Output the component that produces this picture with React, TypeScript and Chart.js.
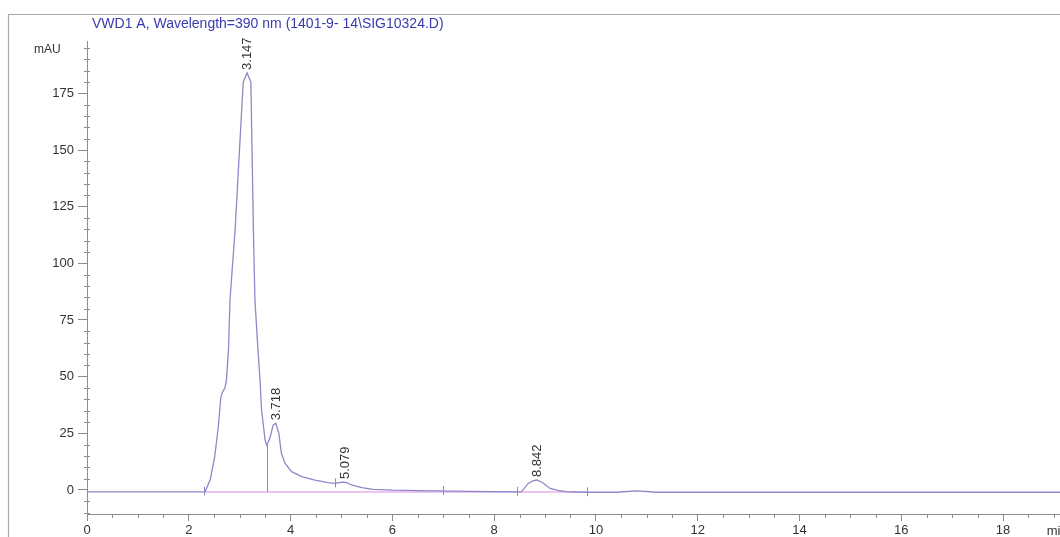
import React, { useEffect, useRef } from "react";
import { Chart, registerables } from "chart.js";

Chart.register(...registerables);

const TITLE = "VWD1 A, Wavelength=390 nm (1401-9- 14\\SIG10324.D)";
const Y_UNIT = "mAU";
const X_UNIT = "min";

// retention time (min) and detector signal (mAU)
const times = [
  0, 1.0, 2.0, 2.3, 2.32, 2.42, 2.51, 2.58, 2.63, 2.67, 2.71, 2.74, 2.78, 2.81, 2.91,
  3.07, 3.147, 3.22, 3.27, 3.30, 3.36, 3.40, 3.43, 3.50, 3.53, 3.57, 3.60, 3.66, 3.71,
  3.77, 3.82, 3.89, 4.02, 4.22, 4.48, 4.74, 4.87, 4.97, 5.04, 5.10, 5.20, 5.40, 5.62,
  6.0, 6.5, 6.93, 7.5, 8.0, 8.45, 8.54, 8.67, 8.76, 8.84, 8.95, 9.10, 9.25, 9.42, 9.6,
  9.83, 10.4, 10.8, 11.2, 12, 14, 16, 18, 19.12,
];
const signal = [
  -0.8, -0.8, -0.8, -0.8, -0.7, 4.4, 14.7, 27.9, 41, 43.5, 45, 48.5, 61.7, 83.8, 114.7,
  180, 184, 180, 114.7, 83.8, 61.7, 48.5, 35.3, 22, 19.8, 21.5, 23.5, 28.7, 29.4,
  25, 16.2, 11.8, 8.1, 5.9, 4.3, 3.2, 2.9, 3.3, 3.5, 3.2, 2.2, 1.0, 0.3,
  -0.1, -0.3, -0.4, -0.6, -0.7, -0.8, -0.7, 2.9, 4.0, 4.4, 3.3, 0.7, -0.2, -0.7, -0.9,
  -1.0, -1.0, -0.4, -1.0, -1.0, -1.0, -1.0, -1.0, -1.0,
];

const peakTimes = [3.147, 3.718, 5.079, 8.842];
const peakLabels = ["3.147", "3.718", "5.079", "8.842"];
const peakHeights = [184, 29.4, 3.5, 4.4];

const baselineTimes = [2.3, 9.83];
const baselineValues = [-0.9, -0.9];

const dropTimes = [3.53];
const dropTops = [19.8];
const dropBottoms = [-0.9];

const markerTimes = [2.3, 4.87, 6.99, 8.45, 9.83];
const markerValues = [-0.7, 2.9, -0.4, -0.8, -1.0];

const xTicks = [0, 2, 4, 6, 8, 10, 12, 14, 16, 18];
const yTicks = [0, 25, 50, 75, 100, 125, 150, 175];
const xMinorStep = 0.5;
const yMinorStep = 5;

const X_MIN = 0;
const X_MAX = 19.12;
const Y_MIN = -10.6;
const Y_MAX = 198.1;

const FONT = "'Liberation Sans', Arial, sans-serif";
const SIGNAL_COLOR = "#8a8ac8";
const BASE_COLOR = "#e08ce0";
const AXIS_COLOR = "#8c8c8c";
const TEXT_COLOR = "#333333";

const decorPlugin = {
  id: "decor",
  afterDatasetsDraw(chart: any) {
    const ctx = chart.ctx;
    const xs = chart.scales.x;
    const ys = chart.scales.y;
    ctx.save();

    // drop line and integration markers
    ctx.strokeStyle = SIGNAL_COLOR;
    ctx.lineWidth = 1;
    dropTimes.forEach((t, i) => {
      const px = Math.round(xs.getPixelForValue(t)) + 0.5;
      ctx.beginPath();
      ctx.moveTo(px, ys.getPixelForValue(dropBottoms[i]));
      ctx.lineTo(px, ys.getPixelForValue(dropTops[i]));
      ctx.stroke();
    });
    markerTimes.forEach((t, i) => {
      const px = Math.round(xs.getPixelForValue(t)) + 0.5;
      const py = ys.getPixelForValue(markerValues[i]);
      ctx.beginPath();
      ctx.moveTo(px, py - 5);
      ctx.lineTo(px, py + 4);
      ctx.stroke();
    });

    // peak labels
    ctx.fillStyle = TEXT_COLOR;
    ctx.font = `13px ${FONT}`;
    ctx.textAlign = "left";
    ctx.textBaseline = "middle";
    peakTimes.forEach((t, i) => {
      const px = xs.getPixelForValue(t);
      const py = ys.getPixelForValue(peakHeights[i]) - 3;
      ctx.save();
      ctx.translate(px, py);
      ctx.rotate(-Math.PI / 2);
      ctx.fillText(peakLabels[i], 0, 0);
      ctx.restore();
    });
    ctx.restore();
  },
  afterDraw(chart: any) {
    const ctx = chart.ctx;
    const xs = chart.scales.x;
    const ys = chart.scales.y;
    const area = chart.chartArea;
    ctx.save();

    // minor ticks
    ctx.strokeStyle = AXIS_COLOR;
    ctx.lineWidth = 1;
    for (let v = X_MIN; v <= X_MAX + 1e-9; v += xMinorStep) {
      if (xTicks.some((m) => Math.abs(m - v) < 1e-6)) continue;
      const px = Math.round(xs.getPixelForValue(v)) + 0.5;
      ctx.beginPath();
      ctx.moveTo(px, area.bottom);
      ctx.lineTo(px, area.bottom + 4);
      ctx.stroke();
    }
    for (let v = -10; v <= Y_MAX + 1e-9; v += yMinorStep) {
      if (yTicks.some((m) => Math.abs(m - v) < 1e-6)) continue;
      const py = Math.round(ys.getPixelForValue(v)) + 0.5;
      ctx.beginPath();
      ctx.moveTo(area.left - 3, py);
      ctx.lineTo(area.left + 3, py);
      ctx.stroke();
    }

    // outer frame
    ctx.strokeStyle = "#a9a9a9";
    ctx.lineWidth = 1.2;
    ctx.beginPath();
    ctx.moveTo(8.5, chart.height);
    ctx.lineTo(8.5, 14.5);
    ctx.lineTo(chart.width, 14.5);
    ctx.stroke();

    // title
    ctx.fillStyle = "#3a3ab0";
    ctx.font = `14px ${FONT}`;
    ctx.textAlign = "left";
    ctx.textBaseline = "alphabetic";
    ctx.fillText(TITLE, 92, 28);

    // units
    ctx.fillStyle = TEXT_COLOR;
    ctx.font = `12px ${FONT}`;
    ctx.fillText(Y_UNIT, 34, 53);
    ctx.font = `13px ${FONT}`;
    ctx.fillText(X_UNIT, xs.getPixelForValue(18.86), 535);
    ctx.restore();
  },
};

export default function App() {
  const ref = useRef<HTMLCanvasElement | null>(null);
  useEffect(() => {
    if (!ref.current) return;
    const chart = new Chart(ref.current, {
      type: "line",
      data: {
        datasets: [
          {
            label: "signal",
            data: times.map((t, i) => ({ x: t, y: signal[i] })),
            borderColor: SIGNAL_COLOR,
            borderWidth: 1.3,
            pointRadius: 0,
            tension: 0,
          },
          {
            label: "baseline",
            data: baselineTimes.map((t, i) => ({ x: t, y: baselineValues[i] })),
            borderColor: BASE_COLOR,
            borderWidth: 1.2,
            pointRadius: 0,
            tension: 0,
          },
        ],
      },
      options: {
        responsive: false,
        animation: false,
        events: [],
        layout: { padding: { top: 41, left: 0, right: 0, bottom: 0 } },
        plugins: {
          legend: { display: false },
          tooltip: { enabled: false },
          title: { display: false },
        },
        scales: {
          x: {
            type: "linear",
            min: X_MIN,
            max: X_MAX,
            afterBuildTicks: (s: any) => {
              s.ticks = xTicks.map((v) => ({ value: v }));
            },
            afterFit: (s: any) => {
              s.height = 23;
            },
            ticks: {
              color: TEXT_COLOR,
              font: { family: FONT, size: 13 },
              maxRotation: 0,
              autoSkip: false,
              padding: 2,
            },
            grid: {
              drawOnChartArea: false,
              drawTicks: true,
              tickLength: 7,
              color: AXIS_COLOR,
            },
            border: { color: AXIS_COLOR },
          },
          y: {
            type: "linear",
            min: Y_MIN,
            max: Y_MAX,
            afterBuildTicks: (s: any) => {
              s.ticks = yTicks.map((v) => ({ value: v }));
            },
            afterFit: (s: any) => {
              s.width = 87;
            },
            ticks: {
              color: TEXT_COLOR,
              font: { family: FONT, size: 13 },
              padding: 4,
            },
            grid: {
              drawOnChartArea: false,
              drawTicks: true,
              tickLength: 9,
              color: AXIS_COLOR,
            },
            border: { color: AXIS_COLOR },
          },
        },
      },
      plugins: [decorPlugin],
    });
    return () => chart.destroy();
  }, []);

  return (
    <div style={{ position: "absolute", left: 0, top: 0, width: 1060, height: 537, background: "#fff" }}>
      <canvas ref={ref} width={1060} height={537} style={{ display: "block", width: 1060, height: 537 }} />
    </div>
  );
}
